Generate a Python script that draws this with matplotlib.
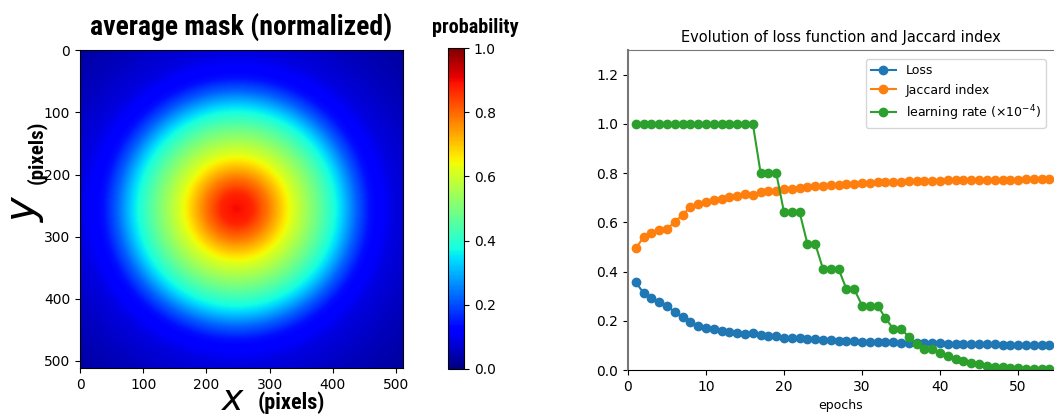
import numpy as np
import matplotlib
matplotlib.use("Agg")
import matplotlib.pyplot as plt
from matplotlib import font_manager

# left: radial profile of the average mask
mask_size = 512
center_x = 248
center_y = 255
profile_r = [0, 25, 50, 88, 131, 163, 190, 211, 250, 300, 362]
profile_v = [0.90, 0.87, 0.78, 0.62, 0.47, 0.35, 0.22, 0.14, 0.085, 0.055, 0.03]

# right: training curves
epochs = list(range(1, 55))
loss = [0.356, 0.313, 0.293, 0.275, 0.261, 0.235, 0.216, 0.193, 0.177, 0.171,
        0.166, 0.160, 0.156, 0.152, 0.148, 0.152, 0.141, 0.137, 0.137, 0.131,
        0.128, 0.129, 0.127, 0.126, 0.122, 0.120, 0.118, 0.117, 0.116, 0.115,
        0.114, 0.113, 0.112, 0.112, 0.111, 0.110, 0.110, 0.109, 0.108, 0.108,
        0.107, 0.106, 0.106, 0.105, 0.105, 0.104, 0.104, 0.103, 0.103, 0.102,
        0.102, 0.101, 0.101, 0.100]
jaccard = [0.494, 0.540, 0.558, 0.569, 0.574, 0.601, 0.631, 0.662, 0.675, 0.684,
           0.692, 0.695, 0.703, 0.707, 0.714, 0.709, 0.722, 0.729, 0.728, 0.735,
           0.736, 0.739, 0.743, 0.746, 0.749, 0.751, 0.753, 0.754, 0.757, 0.759,
           0.760, 0.762, 0.762, 0.764, 0.765, 0.767, 0.767, 0.768, 0.768, 0.769,
           0.770, 0.770, 0.771, 0.771, 0.772, 0.772, 0.772, 0.773, 0.773, 0.773,
           0.774, 0.774, 0.774, 0.774]
lr = [1.0] * 16 + [0.8] * 3 + [0.64] * 3 + [0.512] * 2 + [0.41] * 3 + \
     [0.328] * 2 + [0.262] * 3 + [0.21] + [0.168] * 2 + [0.134] + [0.107] + \
     [0.086] * 2 + [0.069, 0.055, 0.044, 0.035, 0.028, 0.023, 0.018, 0.014,
                    0.012, 0.009, 0.007, 0.006, 0.005, 0.004, 0.003]

# pick a condensed family if one is installed
installed = set(f.name for f in font_manager.fontManager.ttflist)
narrow = 'DejaVu Sans'
for name in ['Roboto Condensed', 'DejaVu Sans Condensed', 'Liberation Sans Narrow',
             'Open Sans Condensed', 'Noto Sans Condensed']:
    if name in installed:
        narrow = name
        break
stretch = 'condensed'

fig = plt.figure(figsize=(10.54, 4.18), dpi=100)

# heatmap
yy, xx = np.mgrid[0:mask_size, 0:mask_size]
rr = np.hypot(xx - center_x, yy - center_y)
mask = np.interp(rr, profile_r, profile_v)

ax1 = fig.add_axes([80 / 1054, 50 / 418, 323 / 1054, 318 / 418])
im = ax1.imshow(mask, cmap='jet', vmin=0, vmax=1, aspect='auto',
                extent=(-0.5, mask_size - 0.5, mask_size - 0.5, -0.5))
ax1.set_xticks([0, 100, 200, 300, 400, 500])
ax1.set_yticks([0, 100, 200, 300, 400, 500])
ax1.tick_params(labelsize=10)
ax1.set_title('average mask (normalized)', family=narrow, stretch=stretch,
              weight='bold', fontsize=20, pad=11)
ax1.text(0.474, -0.10, '$x$', transform=ax1.transAxes, fontsize=26,
         ha='center', va='center')
ax1.text(0.655, -0.11, '(pixels)', transform=ax1.transAxes, family=narrow,
         stretch=stretch, weight='bold', fontsize=16, ha='center', va='center')
ax1.text(-0.17, 0.50, '$y$', transform=ax1.transAxes, fontsize=30,
         rotation=90, ha='center', va='center')
ax1.text(-0.136, 0.68, '(pixels)', transform=ax1.transAxes, family=narrow,
         stretch=stretch, weight='bold', fontsize=15, rotation=90,
         ha='center', va='center')

cax = fig.add_axes([448 / 1054, 49 / 418, 16 / 1054, 321 / 418])
cb = fig.colorbar(im, cax=cax)
cb.set_ticks([0.0, 0.2, 0.4, 0.6, 0.8, 1.0])
cb.ax.tick_params(labelsize=10)
cax.text(1.7, 1.065, 'probability', transform=cax.transAxes, family=narrow,
         stretch=stretch, weight='bold', fontsize=14.5, ha='center',
         va='center')

# training curves
ax2 = fig.add_axes([628 / 1054, 48 / 418, 426 / 1054, 320 / 418])
ax2.plot(epochs, loss, 'o-', color='#1f77b4', ms=6, label='Loss')
ax2.plot(epochs, jaccard, 'o-', color='#ff7f0e', ms=6, label='Jaccard index')
ax2.plot(epochs, lr, 'o-', color='#2ca02c', ms=6,
         label=r'learning rate ($\times 10^{-4}$)')
ax2.set_xlim(0, 54.6)
ax2.set_ylim(0, 1.3)
ax2.set_xticks([0, 10, 20, 30, 40, 50])
ax2.set_yticks([0.0, 0.2, 0.4, 0.6, 0.8, 1.0, 1.2])
ax2.tick_params(labelsize=10)
ax2.spines['right'].set_visible(False)
ax2.spines['left'].set_color('#777777')
ax2.spines['left'].set_linewidth(1.5)
ax2.spines['top'].set_color('#777777')
ax2.set_xlabel('epochs', fontsize=9)
ax2.set_title('Evolution of loss function and Jaccard index', fontsize=10.5)
ax2.legend(loc='upper right', fontsize=9, bbox_to_anchor=(0.995, 0.99))

fig.savefig('out.png', dpi=100)
